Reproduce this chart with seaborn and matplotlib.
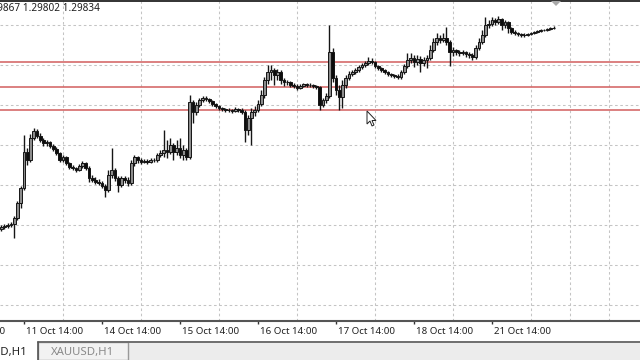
import numpy as np
import pandas as pd
import matplotlib
matplotlib.use("Agg")
import matplotlib.pyplot as plt
import seaborn as sns
from matplotlib import transforms
from matplotlib.patches import Polygon, Rectangle
from matplotlib.lines import Line2D

sns.set_theme(style="white")
plt.rcParams['font.family'] = ['Noto Sans', 'DejaVu Sans']

# ---------------- data (GBPUSD H1) ----------------
first_open = 1.24800
close = [
    1.24850, 1.24875, 1.24900, 1.24925, 1.25075, 1.25450, 1.25825, 1.26725, 1.26525, 1.27075,
    1.27250, 1.27125, 1.27025, 1.26950, 1.26975, 1.26875, 1.26800, 1.26700, 1.26525, 1.26600,
    1.26450, 1.26350, 1.26325, 1.26275, 1.26375, 1.26450, 1.26325, 1.26075, 1.26025, 1.25975,
    1.25950, 1.25875, 1.25775, 1.26150, 1.26275, 1.26075, 1.25900, 1.26075, 1.26025, 1.25950,
    1.26450, 1.26600, 1.26525, 1.26475, 1.26500, 1.26475, 1.26525, 1.26525, 1.26650, 1.26700,
    1.26775, 1.26725, 1.26900, 1.26725, 1.26825, 1.26650, 1.26775, 1.26600, 1.27975, 1.27725,
    1.27900, 1.28025, 1.28075, 1.28050, 1.28000, 1.27925, 1.27875, 1.27825, 1.27800, 1.27775,
    1.27775, 1.27750, 1.27800, 1.27775, 1.27725, 1.27275, 1.27575, 1.27725, 1.27775, 1.27925,
    1.28150, 1.28525, 1.28725, 1.28775, 1.28650, 1.28725, 1.28525, 1.28475, 1.28475, 1.28400,
    1.28375, 1.28325, 1.28375, 1.28425, 1.28400, 1.28400, 1.28375, 1.28350, 1.27900, 1.28025,
    1.28125, 1.29225, 1.28575, 1.28275, 1.28100, 1.28400, 1.28575, 1.28675, 1.28725, 1.28775,
    1.28850, 1.28900, 1.28950, 1.29000, 1.28975, 1.28875, 1.28825, 1.28775, 1.28725, 1.28675,
    1.28650, 1.28625, 1.28600, 1.28725, 1.28875, 1.29025, 1.29075, 1.28975, 1.29050, 1.28950,
    1.29025, 1.29075, 1.29275, 1.29475, 1.29575, 1.29525, 1.29575, 1.29475, 1.29225, 1.29275,
    1.29225, 1.29200, 1.29225, 1.29175, 1.29150, 1.29100, 1.29325, 1.29475, 1.29650, 1.29900,
    1.29925, 1.30025, 1.29975, 1.30050, 1.29900, 1.29975, 1.29825, 1.29725, 1.29700, 1.29675,
    1.29650, 1.29650, 1.29675, 1.29700, 1.29725, 1.29750, 1.29775, 1.29775, 1.29800, 1.29825, 1.29834]
high = [
    1.24900, 1.24925, 1.24950, 1.24975, 1.25125, 1.25500, 1.25875, 1.27150, 1.26825, 1.27175,
    1.27325, 1.27300, 1.27200, 1.27075, 1.27025, 1.27000, 1.26925, 1.26850, 1.26725, 1.26650,
    1.26625, 1.26475, 1.26400, 1.26350, 1.26425, 1.26500, 1.26475, 1.26375, 1.26150, 1.26100,
    1.26050, 1.26000, 1.25925, 1.26275, 1.26825, 1.26325, 1.26125, 1.26125, 1.26125, 1.26100,
    1.26525, 1.26650, 1.26625, 1.26575, 1.26550, 1.26550, 1.26575, 1.26575, 1.26700, 1.26775,
    1.27275, 1.27025, 1.27075, 1.26950, 1.27025, 1.27075, 1.26900, 1.26825, 1.28150, 1.28025,
    1.27975, 1.28075, 1.28125, 1.28125, 1.28075, 1.28025, 1.27950, 1.27900, 1.27850, 1.27825,
    1.27825, 1.27800, 1.27850, 1.27825, 1.27825, 1.27775, 1.27650, 1.27825, 1.27875, 1.28025,
    1.28275, 1.28600, 1.28900, 1.28900, 1.28825, 1.28800, 1.28775, 1.28575, 1.28525, 1.28500,
    1.28450, 1.28425, 1.28425, 1.28450, 1.28450, 1.28450, 1.28425, 1.28400, 1.28375, 1.28075,
    1.28200, 1.29900, 1.29325, 1.28650, 1.28400, 1.28525, 1.28650, 1.28750, 1.28775, 1.28825,
    1.28900, 1.28950, 1.29000, 1.29100, 1.29075, 1.29000, 1.28900, 1.28850, 1.28800, 1.28750,
    1.28700, 1.28675, 1.28675, 1.28775, 1.28925, 1.29200, 1.29200, 1.29150, 1.29150, 1.29125,
    1.29100, 1.29150, 1.29400, 1.29575, 1.29700, 1.29650, 1.29700, 1.29850, 1.29525, 1.29350,
    1.29300, 1.29275, 1.29275, 1.29250, 1.29225, 1.29200, 1.29400, 1.29575, 1.29775, 1.30100,
    1.30025, 1.30100, 1.30075, 1.30125, 1.30075, 1.30025, 1.30000, 1.29850, 1.29775, 1.29725,
    1.29700, 1.29700, 1.29700, 1.29725, 1.29750, 1.29775, 1.29800, 1.29800, 1.29825, 1.29850, 1.29867]
low = [
    1.24750, 1.24800, 1.24825, 1.24850, 1.24575, 1.25025, 1.25325, 1.25775, 1.26400, 1.26475,
    1.27025, 1.27075, 1.26975, 1.26875, 1.26875, 1.26825, 1.26750, 1.26650, 1.26475, 1.26475,
    1.26400, 1.26300, 1.26275, 1.26225, 1.26250, 1.26325, 1.26275, 1.25975, 1.25975, 1.25925,
    1.25900, 1.25825, 1.25600, 1.25725, 1.26075, 1.26000, 1.25725, 1.25850, 1.25950, 1.25875,
    1.25900, 1.26375, 1.26450, 1.26425, 1.26450, 1.26425, 1.26450, 1.26475, 1.26475, 1.26600,
    1.26600, 1.26575, 1.26675, 1.26525, 1.26650, 1.26575, 1.26525, 1.26525, 1.26550, 1.27450,
    1.27650, 1.27850, 1.27975, 1.28000, 1.27950, 1.27875, 1.27825, 1.27775, 1.27750, 1.27725,
    1.27725, 1.27700, 1.27725, 1.27725, 1.27675, 1.26975, 1.27150, 1.26900, 1.27625, 1.27725,
    1.27875, 1.28075, 1.28425, 1.28525, 1.28400, 1.28525, 1.28425, 1.28375, 1.28400, 1.28350,
    1.28325, 1.28275, 1.28300, 1.28350, 1.28350, 1.28350, 1.28325, 1.28300, 1.27775, 1.27850,
    1.27950, 1.28075, 1.28475, 1.28150, 1.27775, 1.27825, 1.28325, 1.28525, 1.28625, 1.28675,
    1.28725, 1.28800, 1.28850, 1.28900, 1.28925, 1.28825, 1.28775, 1.28725, 1.28675, 1.28625,
    1.28600, 1.28575, 1.28550, 1.28550, 1.28675, 1.28825, 1.28950, 1.28850, 1.28900, 1.28725,
    1.28875, 1.28825, 1.29025, 1.29225, 1.29400, 1.29450, 1.29475, 1.29400, 1.28875, 1.29125,
    1.29150, 1.29125, 1.29150, 1.29100, 1.29075, 1.29025, 1.29050, 1.29275, 1.29425, 1.29600,
    1.29825, 1.29875, 1.29900, 1.29925, 1.29775, 1.29825, 1.29700, 1.29675, 1.29650, 1.29625,
    1.29600, 1.29600, 1.29625, 1.29650, 1.29675, 1.29700, 1.29725, 1.29750, 1.29750, 1.29775, 1.29802]

level_lines = [1.28975, 1.28350, 1.27775]
grid_prices = [1.299, 1.289, 1.279, 1.269, 1.259, 1.249, 1.239, 1.229]
label_bars = [-17, 7, 31, 55, 79, 103, 127, 151]
label_text = ["10 Oct 14:00", "11 Oct 14:00", "14 Oct 14:00", "15 Oct 14:00",
              "16 Oct 14:00", "17 Oct 14:00", "18 Oct 14:00", "21 Oct 14:00"]
grid_bars = list(range(-5, 200, 12))
ohlc_text = "GBPUSD,H1  1.29825 1.29867 1.29802 1.29834"
tab_active = "GBPUSD,H1"
tab_other = "XAUUSD,H1"

# ---------------- frame ----------------
W, H = 640, 360
fig = plt.figure(figsize=(6.4, 3.6), dpi=100, facecolor="white")
ax = fig.add_axes([0, 39 / H, 1, 320 / H])
ax.set_facecolor("white")

n = len(close)
opens = [first_open] + close[:-1]
df = pd.DataFrame({"bar": np.arange(n), "open": opens, "high": high,
                   "low": low, "close": close})
df["bull"] = df["close"] >= df["open"]
bottoms = np.minimum(df["open"], df["close"])
heights = np.maximum(np.abs(df["close"] - df["open"]), 0.00004)

ax.vlines(df["bar"], df["low"], df["high"], color="#151515", lw=1.0, zorder=3)
ax.bar(df["bar"], heights, bottom=bottoms, width=0.8,
       color=np.where(df["bull"], "#8c8c8c", "#0c0c0c"),
       edgecolor="#151515", linewidth=0.7, zorder=4)

for lv in level_lines:
    ax.axhline(lv, color="#d46464", lw=1.15, zorder=2)

ax.set_yticks(grid_prices)
ax.set_yticklabels([])
ax.yaxis.grid(True, color="#c4c4c4", lw=0.75, linestyle=(0, (2.5, 2.5)))
ax.set_xticks(label_bars)
ax.set_xticklabels([])
ax.set_xticks(grid_bars, minor=True)
ax.xaxis.grid(True, which="minor", color="#c4c4c4", lw=0.75, linestyle=(0, (2.5, 2.5)))
ax.xaxis.grid(False, which="major")
ax.tick_params(axis="y", length=0)
ax.tick_params(axis="x", which="major", direction="out", length=2.5, width=1,
               color="#333333", bottom=True)
ax.tick_params(axis="x", which="minor", length=0)
ax.set_axisbelow(True)

# limits last (setting ticks can widen the view)
ax.set_xlim(-1.25 / 3.25, (W - 1.25) / 3.25)
ax.set_ylim(1.22500, 1.30500)

for s in ["left", "right"]:
    ax.spines[s].set_visible(False)
ax.spines["bottom"].set_color("#555555")
ax.spines["bottom"].set_linewidth(1.5)
ax.spines["top"].set_color("#222222")
ax.spines["top"].set_linewidth(1.3)

# x labels (left aligned at tick)
tr = transforms.blended_transform_factory(ax.transData, fig.transFigure) + \
    transforms.ScaledTranslation(0.02, 0, fig.dpi_scale_trans)
for b, t in zip(label_bars, label_text):
    ax.text(b, (H - 334) / H, t, transform=tr, ha="left", va="baseline",
            fontsize=7, color="#222222", clip_on=False)

# OHLC header text
fig.text(100 / W, 1 - 8.5 / H, ohlc_text, ha="right", va="center",
         fontsize=7.2, color="#1e1e1e")

# bottom tab bar
fig.patches.append(Rectangle((0, 0), 1, 17.5 / H, transform=fig.transFigure,
                             facecolor="#ececec", edgecolor="none", zorder=0))
fig.patches.append(Rectangle((0, 0), 38 / W, 18 / H, transform=fig.transFigure,
                             facecolor="white", edgecolor="none", zorder=1))
fig.patches.append(Rectangle((38 / W, 0), 90 / W, 18 / H, transform=fig.transFigure,
                             facecolor="#f2f2f2", edgecolor="#9a9a9a", lw=1, zorder=1))
fig.lines.append(Line2D([38 / W, 1], [18 / H, 18 / H], transform=fig.transFigure,
                        color="#6e6e6e", lw=1.4, zorder=2))
fig.lines.append(Line2D([38 / W, 38 / W], [0, 18 / H], transform=fig.transFigure,
                        color="#555555", lw=1.2, zorder=2))
fig.text(27 / W, 8 / H, tab_active, ha="right", va="center", fontsize=8.2,
         color="#222222")
fig.text(83 / W, 8 / H, tab_other, ha="center", va="center", fontsize=8.2,
         color="#8a8a8a")

# mouse cursor and chart shift marker
tip = (367, 111)
pts = [(0, 0), (0, 13), (3, 10), (5, 15), (7, 14), (5, 9.5), (9, 9.5)]
poly = [(tip[0] + dx, H - (tip[1] + dy)) for dx, dy in pts]
fig.patches.append(Polygon(poly, closed=True, transform=transforms.IdentityTransform(),
                           facecolor="white", edgecolor="#222222", lw=0.7, zorder=10))
fig.patches.append(Polygon([(551, H - 1), (561, H - 1), (556, H - 6)], closed=True,
                           transform=transforms.IdentityTransform(),
                           facecolor="#a8a8a8", edgecolor="none", zorder=10))

fig.savefig("out.png", dpi=100, facecolor="white")
